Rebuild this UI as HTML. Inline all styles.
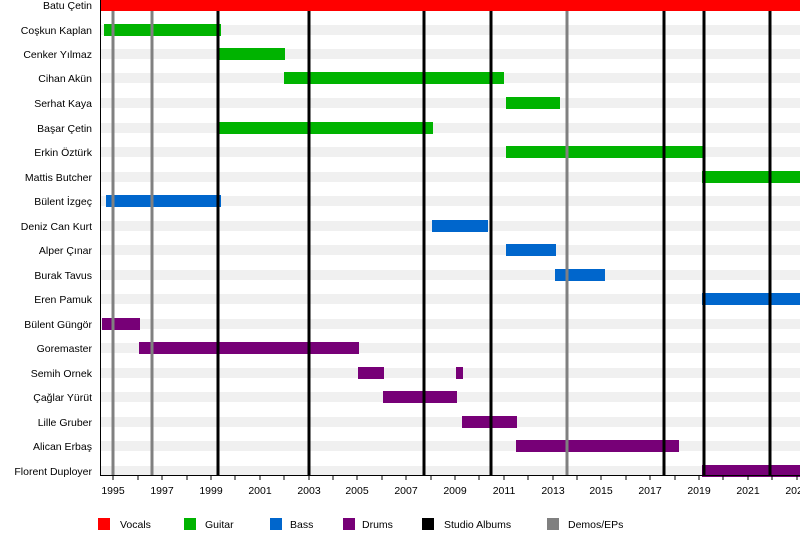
<!DOCTYPE html>
<html><head><meta charset="utf-8"><style>
html,body{margin:0;padding:0;background:#fff;}
svg{display:block;font-family:"Liberation Sans",sans-serif;}
</style></head><body>
<svg width="800" height="535" xmlns="http://www.w3.org/2000/svg">
<g fill="#f0f0f0">
<rect x="100" y="25" width="700" height="10"/><rect x="100" y="49" width="700" height="10"/><rect x="100" y="73" width="700" height="10"/><rect x="100" y="98" width="700" height="10"/><rect x="100" y="123" width="700" height="10"/><rect x="100" y="147" width="700" height="10"/><rect x="100" y="172" width="700" height="10"/><rect x="100" y="196" width="700" height="10"/><rect x="100" y="221" width="700" height="10"/><rect x="100" y="245" width="700" height="10"/><rect x="100" y="270" width="700" height="10"/><rect x="100" y="294" width="700" height="10"/><rect x="100" y="319" width="700" height="10"/><rect x="100" y="343" width="700" height="10"/><rect x="100" y="368" width="700" height="10"/><rect x="100" y="392" width="700" height="10"/><rect x="100" y="417" width="700" height="10"/><rect x="100" y="441" width="700" height="10"/><rect x="100" y="466" width="700" height="10"/>
</g>
<g>
<rect x="100" y="0" width="700" height="11" fill="#ff0000"/>
<g fill="#00b300">
<rect x="104" y="24" width="117" height="12"/><rect x="219" y="48" width="66" height="12"/><rect x="284" y="72" width="220" height="12"/><rect x="506" y="97" width="54" height="12"/><rect x="219" y="122" width="214" height="12"/><rect x="506" y="146" width="198" height="12"/><rect x="702" y="171" width="98" height="12"/>
</g>
<g fill="#0066cc">
<rect x="106" y="195" width="115" height="12"/><rect x="432" y="220" width="56" height="12"/><rect x="506" y="244" width="50" height="12"/><rect x="555" y="269" width="50" height="12"/><rect x="702" y="293" width="98" height="12"/>
</g>
<g fill="#770077">
<rect x="102" y="318" width="38" height="12"/><rect x="139" y="342" width="220" height="12"/><rect x="358" y="367" width="26" height="12"/><rect x="456" y="367" width="7" height="12"/><rect x="383" y="391" width="74" height="12"/><rect x="462" y="416" width="55" height="12"/><rect x="516" y="440" width="163" height="12"/><rect x="702" y="465" width="98" height="12"/>
</g>
</g>
<g stroke="#808080" stroke-width="3">
<line x1="113" y1="11" x2="113" y2="475"/><line x1="152" y1="11" x2="152" y2="475"/><line x1="567" y1="11" x2="567" y2="475"/>
</g>
<g stroke="#000" stroke-width="3">
<line x1="218" y1="11" x2="218" y2="475"/><line x1="309" y1="11" x2="309" y2="475"/><line x1="424" y1="11" x2="424" y2="475"/><line x1="491" y1="11" x2="491" y2="475"/><line x1="664" y1="11" x2="664" y2="475"/><line x1="704" y1="11" x2="704" y2="475"/><line x1="770" y1="11" x2="770" y2="475"/>
</g>
<line x1="100.5" y1="0" x2="100.5" y2="476" stroke="#000"/>
<line x1="100" y1="475.5" x2="800" y2="475.5" stroke="#000"/>
<g stroke="#000">
<line x1="113" y1="476" x2="113" y2="480"/><line x1="138" y1="476" x2="138" y2="480"/><line x1="162" y1="476" x2="162" y2="480"/><line x1="187" y1="476" x2="187" y2="480"/><line x1="211" y1="476" x2="211" y2="480"/><line x1="235" y1="476" x2="235" y2="480"/><line x1="260" y1="476" x2="260" y2="480"/><line x1="284" y1="476" x2="284" y2="480"/><line x1="309" y1="476" x2="309" y2="480"/><line x1="333" y1="476" x2="333" y2="480"/><line x1="357" y1="476" x2="357" y2="480"/><line x1="382" y1="476" x2="382" y2="480"/><line x1="406" y1="476" x2="406" y2="480"/><line x1="431" y1="476" x2="431" y2="480"/><line x1="455" y1="476" x2="455" y2="480"/><line x1="479" y1="476" x2="479" y2="480"/><line x1="504" y1="476" x2="504" y2="480"/><line x1="528" y1="476" x2="528" y2="480"/><line x1="553" y1="476" x2="553" y2="480"/><line x1="577" y1="476" x2="577" y2="480"/><line x1="601" y1="476" x2="601" y2="480"/><line x1="626" y1="476" x2="626" y2="480"/><line x1="650" y1="476" x2="650" y2="480"/><line x1="675" y1="476" x2="675" y2="480"/><line x1="699" y1="476" x2="699" y2="480"/><line x1="723" y1="476" x2="723" y2="480"/><line x1="748" y1="476" x2="748" y2="480"/><line x1="772" y1="476" x2="772" y2="480"/><line x1="797" y1="476" x2="797" y2="480"/>
</g>
<g font-size="10.5" fill="#000" text-anchor="middle">
<text x="113" y="494">1995</text><text x="162" y="494">1997</text><text x="211" y="494">1999</text><text x="260" y="494">2001</text><text x="309" y="494">2003</text><text x="357" y="494">2005</text><text x="406" y="494">2007</text><text x="455" y="494">2009</text><text x="504" y="494">2011</text><text x="553" y="494">2013</text><text x="601" y="494">2015</text><text x="650" y="494">2017</text><text x="699" y="494">2019</text><text x="748" y="494">2021</text><text x="797" y="494">2023</text>
</g>
<g font-size="10.5" fill="#000" text-anchor="end">
<text x="92" y="9">Batu Çetin</text><text x="92" y="34">Coşkun Kaplan</text><text x="92" y="58">Cenker Yılmaz</text><text x="92" y="82">Cihan Akün</text><text x="92" y="107">Serhat Kaya</text><text x="92" y="132">Başar Çetin</text><text x="92" y="156">Erkin Öztürk</text><text x="92" y="181">Mattis Butcher</text><text x="92" y="205">Bülent İzgeç</text><text x="92" y="230">Deniz Can Kurt</text><text x="92" y="254">Alper Çınar</text><text x="92" y="279">Burak Tavus</text><text x="92" y="303">Eren Pamuk</text><text x="92" y="328">Bülent Güngör</text><text x="92" y="352">Goremaster</text><text x="92" y="377">Semih Ornek</text><text x="92" y="401">Çağlar Yürüt</text><text x="92" y="426">Lille Gruber</text><text x="92" y="450">Alican Erbaş</text><text x="92" y="475">Florent Duployer</text>
</g>
<rect x="98" y="518" width="12" height="12" fill="#ff0000"/>
<rect x="184" y="518" width="12" height="12" fill="#00b300"/>
<rect x="270" y="518" width="12" height="12" fill="#0066cc"/>
<rect x="343" y="518" width="12" height="12" fill="#770077"/>
<rect x="422" y="518" width="12" height="12" fill="#000"/>
<rect x="547" y="518" width="12" height="12" fill="#808080"/>
<g font-size="10.5" fill="#000">
<text x="120" y="528">Vocals</text><text x="205" y="528">Guitar</text><text x="290" y="528">Bass</text><text x="362" y="528">Drums</text><text x="444" y="528">Studio Albums</text><text x="568" y="528">Demos/EPs</text>
</g>
</svg>
</body></html>
